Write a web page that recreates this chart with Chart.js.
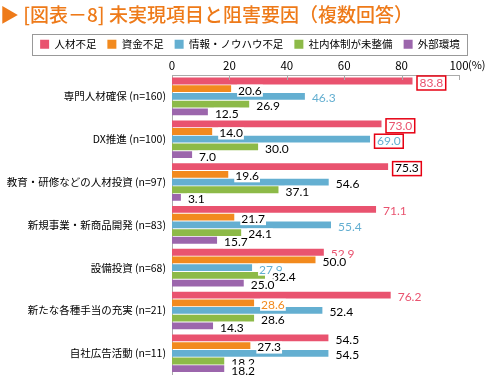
<!DOCTYPE html>
<html>
<head>
<meta charset="utf-8">
<script src="https://cdn.jsdelivr.net/npm/chart.js@4.4.1/dist/chart.umd.min.js"></script>
<style>
  html, body { margin: 0; padding: 0; background: #fff; }
  #wrap { width: 500px; height: 387px; position: relative; }
</style>
</head>
<body>
<div id="wrap"><canvas id="chart"></canvas></div>
<script>
// data
const categories = [
  "専門人材確保 (n=160)",
  "DX推進 (n=100)",
  "教育・研修などの人材投資 (n=97)",
  "新規事業・新商品開発 (n=83)",
  "設備投資 (n=68)",
  "新たな各種手当の充実 (n=21)",
  "自社広告活動 (n=11)"
];
const seriesNames = ["人材不足", "資金不足", "情報・ノウハウ不足", "社内体制が未整備", "外部環境"];
const jinzaiFusoku = [83.8, 73.0, 75.3, 71.1, 52.9, 76.2, 54.5];
const shikinFusoku = [20.6, 14.0, 19.6, 21.7, 50.0, 28.6, 27.3];
const jouhouFusoku = [46.3, 69.0, 54.6, 55.4, 27.9, 52.4, 54.5];
const taiseiMiseibi = [26.9, 30.0, 37.1, 24.1, 32.4, 28.6, 18.2];
const gaibuKankyo = [12.5, 7.0, 3.1, 15.7, 25.0, 14.3, 18.2];
const xTickValues = [0, 20, 40, 60, 80, 100];

// colours
const PINK = "#E9536F";
const ORANGE = "#F28A1E";
const BLUE = "#64AFD1";
const GREEN = "#8DBA48";
const PURPLE = "#9C66AC";
const TITLE_ORANGE = "#EE7A19";
const barColors = [PINK, ORANGE, BLUE, GREEN, PURPLE];

// which value labels are coloured / boxed (series index -> category indexes)
const colouredLabels = { 0: [0, 1, 3, 4, 5], 1: [5], 2: [0, 1, 3, 4] };
const boxedLabels = [[0, 0], [0, 1], [2, 1], [0, 2]];

const FONT = "'Noto Sans CJK JP', 'Noto Sans', sans-serif";

const allSeries = [jinzaiFusoku, shikinFusoku, jouhouFusoku, taiseiMiseibi, gaibuKankyo];

// draws legend frame, downward tick marks, "(%)" and the value labels
const extrasPlugin = {
  id: "extras",
  afterDatasetsDraw(chart) {
    const ctx = chart.ctx;
    const xs = chart.scales.x;
    const area = chart.chartArea;
    ctx.save();

    // tick marks hanging down from the top axis
    ctx.strokeStyle = "#aaa";
    ctx.lineWidth = 1;
    xTickValues.forEach((v) => {
      if (v === 0) return;
      const px = Math.round(xs.getPixelForValue(v)) + 0.5;
      ctx.beginPath();
      ctx.moveTo(px, area.top);
      ctx.lineTo(px, area.top + 5);
      ctx.stroke();
    });

    // "(%)" after the 100 tick label
    ctx.font = "11px " + FONT;
    ctx.fillStyle = "#000";
    ctx.textBaseline = "middle";
    ctx.textAlign = "left";
    ctx.fillText("(%)", xs.getPixelForValue(100) + 9, area.top - 10);

    // value labels
    ctx.font = "12px Lato, " + FONT;
    chart.data.datasets.forEach((ds, si) => {
      const meta = chart.getDatasetMeta(si);
      meta.data.forEach((bar, ci) => {
        const txt = allSeries[si][ci].toFixed(1);
        const tx = bar.x + 7;
        const ty = bar.y + 2;
        const w = ctx.measureText(txt).width;
        ctx.fillStyle = "#fff";
        ctx.fillRect(tx - 1, ty - 6, w + 2, 12);
        const coloured = colouredLabels[si] && colouredLabels[si].includes(ci);
        ctx.fillStyle = coloured ? barColors[si] : "#000";
        ctx.fillText(txt, tx, ty);
        if (boxedLabels.some((b) => b[0] === si && b[1] === ci)) {
          ctx.strokeStyle = "#E60012";
          ctx.lineWidth = 1.5;
          ctx.strokeRect(tx - 2.5, ty - 7, w + 5, 14);
        }
      });
    });
    ctx.restore();
  },
  afterDraw(chart) {
    const lg = chart.legend;
    if (!lg || !lg.legendHitBoxes || !lg.legendHitBoxes.length) return;
    const hb = lg.legendHitBoxes;
    const first = hb[0];
    const last = hb[hb.length - 1];
    const ctx = chart.ctx;
    ctx.save();
    ctx.strokeStyle = "#999";
    ctx.lineWidth = 1;
    const cy = first.top + first.height / 2;
    ctx.strokeRect(Math.round(first.left - 8) + 0.5, Math.round(cy - 10.5) + 0.5,
      Math.round(last.left + last.width + 15 - first.left), 21);
    ctx.restore();
  }
};

const ctx = document.getElementById("chart").getContext("2d");
new Chart(ctx, {
  type: "bar",
  data: {
    labels: categories,
    datasets: allSeries.map((values, i) => ({
      label: seriesNames[i],
      data: values,
      backgroundColor: barColors[i],
      borderWidth: 0,
      categoryPercentage: 0.9,
      barPercentage: 0.88
    }))
  },
  options: {
    indexAxis: "y",
    responsive: true,
    maintainAspectRatio: false,
    animation: false,
    layout: { padding: { left: 0, right: 0, top: 0, bottom: 2 } },
    scales: {
      x: {
        position: "top",
        min: 0,
        max: 100,
        ticks: { stepSize: 20, color: "#000", font: { size: 11.5, family: FONT }, padding: 2 },
        grid: { display: false, drawTicks: false },
        border: { display: true, color: "#aaa" },
        afterFit(scale) {
          const c = scale.chart;
          const used = (c.titleBlock ? c.titleBlock.height : 0) + (c.legend ? c.legend.height : 0);
          scale.height = Math.max(10, 75 - used);
        }
      },
      y: {
        ticks: { color: "#000", font: { size: 10.5, family: FONT }, padding: 6 },
        grid: { display: false, drawTicks: false },
        border: { display: true, color: "#aaa" },
        afterFit(scale) { scale.width = 172; }
      },
      // empty right-hand strip so the plot ends at x=459 while the legend stays centred on the page
      yRight: {
        type: "category",
        position: "right",
        ticks: { display: false },
        grid: { display: false, drawTicks: false },
        border: { display: false },
        afterFit(scale) { scale.width = 41; }
      }
    },
    plugins: {
      title: {
        display: true,
        text: "▶ [図表－8] 未実現項目と阻害要因（複数回答）",
        align: "start",
        color: TITLE_ORANGE,
        font: { size: 19, family: FONT, weight: "500", lineHeight: 1.1 },
        padding: { top: 4, bottom: 3 }
      },
      legend: {
        display: true,
        labels: {
          boxWidth: 9,
          boxHeight: 9,
          padding: 11,
          color: "#000",
          font: { size: 10.5, family: FONT }
        }
      },
      tooltip: { enabled: false }
    }
  },
  plugins: [extrasPlugin]
});
</script>
</body>
</html>
